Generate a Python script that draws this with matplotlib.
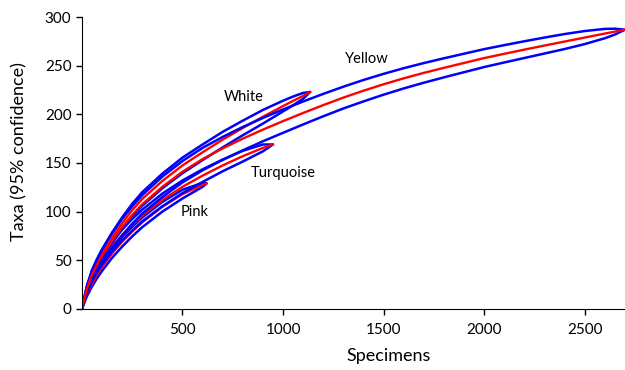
import numpy as np
import matplotlib
matplotlib.use("Agg")
import matplotlib.pyplot as plt

plt.rcParams['font.family'] = ['Lato', 'DejaVu Sans']

# rarefaction curves: specimens sampled vs expected taxa, with 95% CI half-width
yellow_n = [0, 25, 50, 75, 100, 150, 200, 250, 300, 400, 500, 600, 700, 800, 900, 1000,
            1100, 1200, 1300, 1400, 1500, 1600, 1700, 1800, 1900, 2000,
            2100, 2200, 2300, 2400, 2500, 2600, 2650, 2700]
yellow_mean = [0, 20.5, 35, 45.5, 54.5, 70, 84, 96.5, 107.5, 125.5, 141, 154, 165, 175, 184.3, 193,
               201.4, 209.5, 217.2, 224.3, 230.9, 237, 242.6, 247.8, 252.8, 257.8,
               262.2, 266.5, 270.7, 274.8, 278.9, 283, 285, 287]
yellow_ci = [0, 3, 4.5, 5.5, 6.5, 7.5, 8.5, 9, 9.5, 10.5, 11, 11.5, 11.8, 12, 12, 12,
             11.8, 11.5, 11.2, 11, 10.7, 10.4, 10.1, 9.8, 9.5, 9.2,
             8.9, 8.6, 8.2, 7.7, 6.7, 4.8, 3, 0]

white_n = [0, 25, 50, 75, 100, 150, 200, 250, 300, 400, 500, 600, 700, 800,
           900, 1000, 1050, 1100, 1135]
white_mean = [0, 21, 36, 47, 56.5, 73, 88, 101.5, 113, 131.5, 147.5, 161, 174, 186,
              197.5, 208.5, 213.8, 219, 223]
white_ci = [0, 2.5, 3.5, 4, 4.5, 5.5, 6, 6.5, 7, 7.5, 8, 8, 8, 7.5,
            7, 5.5, 4.5, 3, 0]

turq_n = [0, 25, 50, 75, 100, 150, 200, 250, 300, 400, 500, 600, 700, 800, 900, 950]
turq_mean = [0, 19, 32, 42, 50, 64, 76, 86.5, 96, 112, 125.5, 137, 147.5, 157, 165.5, 169]
turq_ci = [0, 2.5, 3.5, 4, 4.5, 5, 5.5, 6, 6, 6.5, 6.5, 6.5, 6, 5.5, 3.5, 0]

pink_n = [0, 25, 50, 75, 100, 150, 200, 250, 300, 400, 500, 600, 620]
pink_mean = [0, 15, 26, 35, 43, 57, 69, 79.5, 89, 105, 118, 127.5, 129]
pink_ci = [0, 2, 3, 3.5, 4, 4.5, 5, 5, 5, 5, 4.5, 2, 0]

groups = [
    ("Pink", pink_n, pink_mean, pink_ci, (562, 100)),
    ("Turquoise", turq_n, turq_mean, turq_ci, (1000, 140)),
    ("White", white_n, white_mean, white_ci, (805, 218)),
    ("Yellow", yellow_n, yellow_mean, yellow_ci, (1416, 257)),
]

fig = plt.figure(figsize=(6.25, 3.7), dpi=100)
ax = fig.add_axes([0.131, 0.165, 0.869, 0.789])

for name, n, m, ci, pos in groups:
    n = np.array(n, float)
    m = np.array(m, float)
    ci = np.array(ci, float)
    # confidence band drawn as one closed loop: upper bound out, lower bound back
    ax.plot(np.r_[n, n[::-1]], np.r_[m + ci, (m - ci)[::-1]],
            color="#0000ff", lw=1.8, solid_joinstyle="round")
    ax.plot(n, m, color="#ff0000", lw=1.7)
    ax.text(pos[0], pos[1], name, fontsize=10.5, ha="center", va="center")

ax.set_xlim(0, 2700)
ax.set_ylim(0, 300)
ax.set_xticks([500, 1000, 1500, 2000, 2500])
ax.set_yticks(range(0, 301, 50))
ax.tick_params(labelsize=11, length=4, width=1)
ax.tick_params(axis="x", pad=6)
ax.spines["top"].set_visible(False)
ax.spines["right"].set_visible(False)

ax.set_xlabel("Specimens", fontsize=13)
ax.xaxis.set_label_coords(0.564, -0.135)
ax.set_ylabel("Taxa (95% confidence)", fontsize=13)
ax.yaxis.set_label_coords(-0.100, 0.538)

fig.savefig("out.png", dpi=100)
